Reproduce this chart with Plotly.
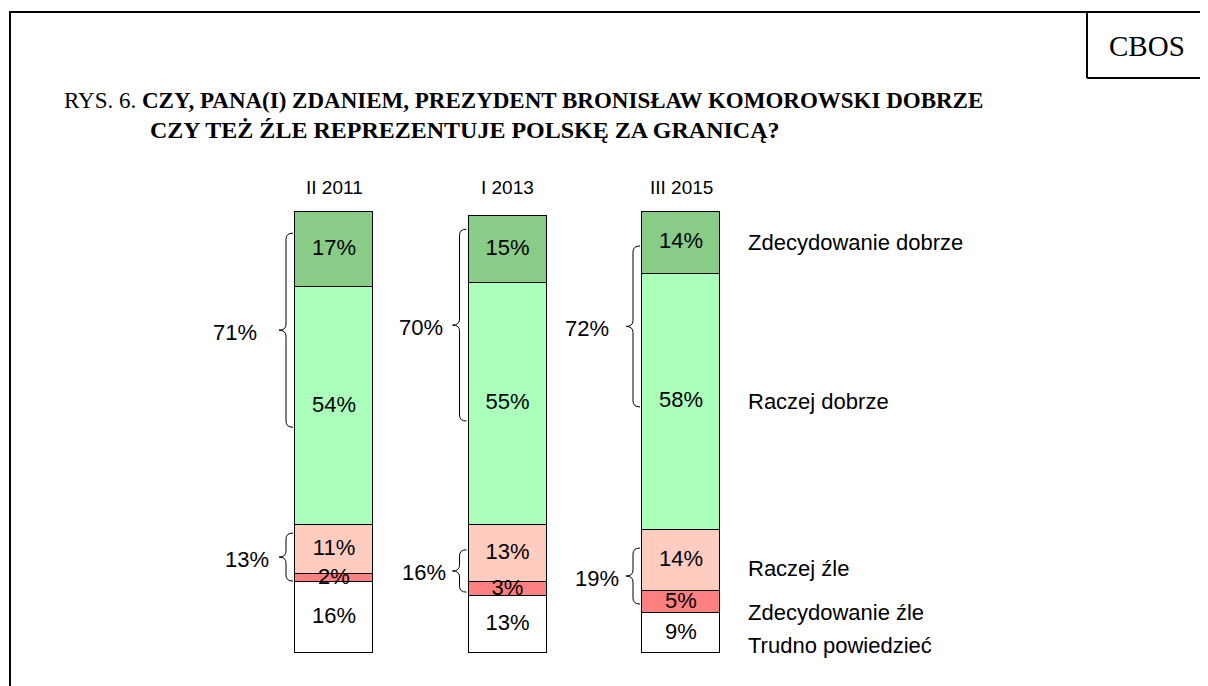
import plotly.graph_objects as go

# ---------------- data ----------------
periods = ["II 2011", "I 2013", "III 2015"]
categories = ["Trudno powiedzieć", "Zdecydowanie źle", "Raczej źle",
              "Raczej dobrze", "Zdecydowanie dobrze"]  # bottom -> top
trudno = [16, 13, 9]
zdec_zle = [2, 3, 5]
raczej_zle = [11, 13, 14]
raczej_dobrze = [54, 55, 58]
zdec_dobrze = [17, 15, 14]
total_good = [71, 70, 72]
total_bad = [13, 16, 19]

series = [trudno, zdec_zle, raczej_zle, raczej_dobrze, zdec_dobrze]
colors = ["#FFFFFF", "#FF8080", "#FFCCC0", "#AAFFBB", "#88CC88"]

# ---------------- layout constants ----------------
OFF = 8                  # page body margin of the browser
W, H = 1208 - OFF, 686 - OFF
x_pos = [0, 1, 2]
PX_X = 173.5             # pixels per x unit
PX_Y = 4.41              # pixels per percent
X0_PX, Y0_PX = 334 - OFF, 653 - OFF   # figure pixel position of x=0, y=0
xr = [-X0_PX / PX_X, (W - X0_PX) / PX_X]
yr = [-(H - Y0_PX) / PX_Y, Y0_PX / PX_Y]
BAR_W = 78 / PX_X

SANS = "Arial, Liberation Sans, sans-serif"
SERIF = "Times New Roman, Liberation Serif, serif"

fig = go.Figure()

# stacked bars
for name, vals, col in zip(categories, series, colors):
    fig.add_trace(go.Bar(
        x=x_pos, y=vals, name=name, width=BAR_W,
        marker=dict(color=col, line=dict(color="#000000", width=1)),
        hoverinfo="skip", showlegend=False,
    ))

# value labels at segment centres
cum = [0, 0, 0]
mids_per_series = []
for vals in series:
    mids = [c + v / 2 for c, v in zip(cum, vals)]
    mids_per_series.append(mids)
    fig.add_trace(go.Scatter(
        x=x_pos, y=mids, mode="text",
        text=[f"{v}%" for v in vals],
        textfont=dict(family=SANS, size=22, color="#000000"),
        hoverinfo="skip", showlegend=False,
    ))
    cum = [c + v for c, v in zip(cum, vals)]

# column headers
for xp, p in zip(x_pos, periods):
    fig.add_annotation(x=xp, y=(Y0_PX - (187 - OFF)) / PX_Y, text=p, showarrow=False,
                       font=dict(family=SANS, size=19, color="#000000"),
                       xanchor="center", yanchor="middle")

# right-hand category labels, next to the last bar
label_shift = [-12, -10, -8, 0, 0]  # px, to keep the small lower labels apart
for name, mids, sh in zip(categories, mids_per_series, label_shift):
    fig.add_annotation(x=x_pos[-1] + 65 / PX_X, y=mids[-1], yshift=sh,
                       text=name, showarrow=False, xanchor="left", yanchor="middle",
                       font=dict(family=SANS, size=22, color="#000000"))

# braces (drawn as in the original, in percent units: top, bottom)
brace_good = [(95.2, 51.2), (96.1, 52.6), (92.3, 55.8)]
brace_bad = [(27.2, 16.3), (23.4, 13.8), (23.8, 11.1)]
gap_good = [75, 63, 70]   # px from bar centre to right edge of the total label
gap_bad = [63, 60, 60]


def brace_path(xc, top, bot):
    xe = xc - 41 / PX_X       # open ends, near the bar
    xt = xc - 55 / PX_X       # tip
    xm = (xe + xt) / 2
    ymid = (top + bot) / 2
    d = min(6 / PX_Y, (top - bot) / 4)
    return (f"M {xe},{top} Q {xm},{top} {xm},{top - d} "
            f"L {xm},{ymid + d} Q {xm},{ymid} {xt},{ymid} "
            f"Q {xm},{ymid} {xm},{ymid - d} "
            f"L {xm},{bot + d} Q {xm},{bot} {xe},{bot}")


for xp, bg, bb, tg, tb, gg, gb in zip(x_pos, brace_good, brace_bad, total_good,
                                      total_bad, gap_good, gap_bad):
    for (t, b), tot, gap in ((bg, tg, gg), (bb, tb, gb)):
        fig.add_shape(type="path", path=brace_path(xp, t, b), xref="x", yref="y",
                      line=dict(color="#000000", width=1))
        fig.add_annotation(x=xp - gap / PX_X, y=(t + b) / 2, yshift=-2, text=f"{tot}%",
                           showarrow=False, xanchor="right", yanchor="middle",
                           font=dict(family=SANS, size=22, color="#000000"))


# frame and CBOS box (screen pixels -> paper coordinates)
def px(xp):
    return (xp - OFF) / W


def py(yp):
    return 1 - (yp - OFF) / H


LINE = dict(color="#000000", width=2)
fig.add_shape(type="line", xref="paper", yref="paper", x0=px(10), x1=px(10), y0=py(11), y1=py(686),
              line=LINE)
fig.add_shape(type="line", xref="paper", yref="paper", x0=px(10), x1=px(1208), y0=py(12), y1=py(12),
              line=LINE)
fig.add_shape(type="line", xref="paper", yref="paper", x0=px(1087), x1=px(1087), y0=py(12), y1=py(78),
              line=LINE)
fig.add_shape(type="line", xref="paper", yref="paper", x0=px(1087), x1=px(1208), y0=py(78), y1=py(78),
              line=LINE)
fig.add_annotation(xref="paper", yref="paper", x=px(1147), y=py(46), text="CBOS",
                   showarrow=False, xanchor="center", yanchor="middle",
                   font=dict(family=SERIF, size=29, color="#000000"))

# title
fig.add_annotation(xref="paper", yref="paper", x=px(62), y=py(100),
                   text="RYS. 6. <b>CZY, PANA(I) ZDANIEM, PREZYDENT BRONISŁAW KOMOROWSKI DOBRZE</b>",
                   showarrow=False, xanchor="left", yanchor="middle",
                   font=dict(family=SERIF, size=23, color="#000000"))
fig.add_annotation(xref="paper", yref="paper", x=px(148), y=py(130),
                   text="<b>CZY TEŻ ŹLE REPREZENTUJE POLSKĘ ZA GRANICĄ?</b>",
                   showarrow=False, xanchor="left", yanchor="middle",
                   font=dict(family=SERIF, size=24, color="#000000"))

fig.update_layout(
    width=W, height=H, barmode="stack", bargap=0,
    margin=dict(l=0, r=0, t=0, b=0),
    paper_bgcolor="#FFFFFF", plot_bgcolor="#FFFFFF",
    xaxis=dict(range=xr, visible=False, fixedrange=True),
    yaxis=dict(range=yr, visible=False, fixedrange=True),
    showlegend=False,
)

fig.write_html("out.html")
